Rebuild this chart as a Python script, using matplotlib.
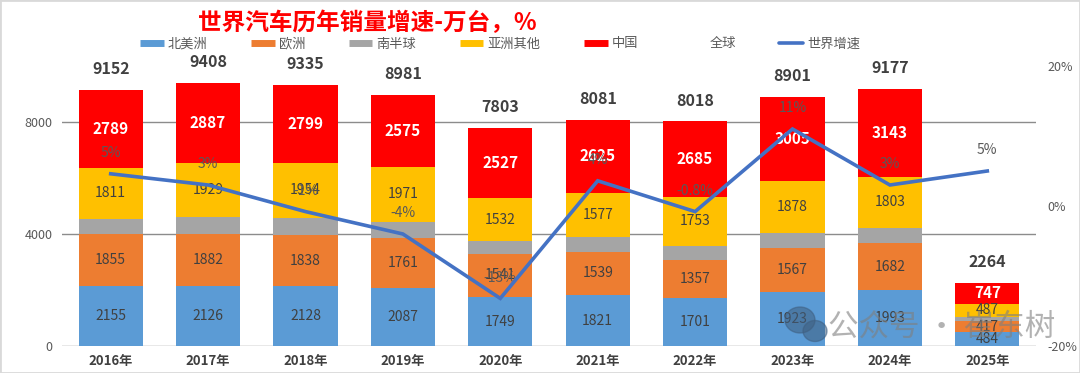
import matplotlib
matplotlib.use('Agg')
import matplotlib.pyplot as plt
from matplotlib.lines import Line2D
from matplotlib.patches import Rectangle, Ellipse

plt.rcParams['font.family'] = ['Liberation Sans Narrow', 'Noto Sans CJK SC', 'DejaVu Sans']

years = ["2016年", "2017年", "2018年", "2019年", "2020年",
         "2021年", "2022年", "2023年", "2024年", "2025年"]
north_america = [2155, 2126, 2128, 2087, 1749, 1821, 1701, 1923, 1993, 484]
europe = [1855, 1882, 1838, 1761, 1541, 1539, 1357, 1567, 1682, 417]
south = [542, 584, 616, 587, 454, 519, 522, 528, 556, 129]
asia_other = [1811, 1929, 1954, 1971, 1532, 1577, 1753, 1878, 1803, 487]
china = [2789, 2887, 2799, 2575, 2527, 2625, 2685, 3005, 3143, 747]
world = [9152, 9408, 9335, 8981, 7803, 8081, 8018, 8901, 9177, 2264]
growth = [4.6, 3.0, -0.8, -4.0, -13.2, 3.6, -0.8, 11.0, 3.0, 5.0]
growth_labels = ["5%", "3%", "-1%", "-4%", "-13%", "4%", "-0.8%", "11%", "3%", "5%"]

c_na, c_eu, c_s, c_as, c_cn = '#5B9BD5', '#ED7D31', '#A5A5A5', '#FFC000', '#FF0000'
c_line = '#4472C4'
txt = '#404040'

fig = plt.figure(figsize=(10.8, 3.73), dpi=100)
ax = fig.add_axes([62 / 1080, 1 - 346 / 373, (1036 - 62) / 1080, (346 - 66) / 373])

x = list(range(len(years)))
w = 0.66
series = [(north_america, c_na), (europe, c_eu), (south, c_s), (asia_other, c_as), (china, c_cn)]
bottom = [0] * len(years)
for k, (vals, col) in enumerate(series):
    ax.bar(x, vals, w, bottom=bottom, color=col, zorder=2)
    for i, v in enumerate(vals):
        mid = bottom[i] + v / 2
        if col == c_cn:
            ax.text(i, mid, str(v), ha='center', va='center', color='white',
                    fontsize=11, fontweight='bold', zorder=3)
        elif col != c_s:
            ax.text(i, mid, str(v), ha='center', va='center', color=txt,
                    fontsize=10, zorder=3)
    bottom = [b + v for b, v in zip(bottom, vals)]

for i, t in enumerate(world):
    ax.annotate(str(t), (i, t), xytext=(0, 15), textcoords='offset points',
                ha='center', va='center', fontsize=11.5, fontweight='bold', color=txt)

ax.set_xlim(-0.5, 9.5)
ax.set_ylim(0, 10000)
ax.set_yticks([0, 4000, 8000])
ax.grid(axis='y', color='#8c8c8c', linewidth=1, zorder=1)
for s in ax.spines.values():
    s.set_visible(False)
ax.set_xticks(x)
ax.set_xticklabels(years, fontweight='bold', color=txt, fontsize=9.5)
ax.tick_params(axis='x', length=0, pad=6)
ax.tick_params(axis='y', length=0, pad=7, labelsize=9, labelcolor='#595959')

ax2 = ax.twinx()
ax2.plot(x, growth, color=c_line, linewidth=2.6, solid_joinstyle='miter', zorder=4)
for i, (g, lab) in enumerate(zip(growth, growth_labels)):
    ax2.annotate(lab, (i, g), xytext=(0, 15), textcoords='offset points',
                 ha='center', va='center', fontsize=10, color='#595959')
ax2.set_ylim(-20, 20)
ax2.set_yticks([-20, 0, 20])
ax2.set_yticklabels(['-20%', '0%', '20%'])
ax2.tick_params(axis='y', length=0, pad=8, labelsize=9, labelcolor='#595959')
for s in ax2.spines.values():
    s.set_visible(False)

fig.text(367 / 1080, 1 - 23 / 373, "世界汽车历年销量增速-万台，%", color='#FF0000',
         fontsize=17, fontweight='bold', ha='center', va='center')

handles = [Line2D([], [], color=c, linewidth=5, solid_capstyle='butt')
           for c in (c_na, c_eu, c_s, c_as, c_cn)]
handles.append(Line2D([], [], color='none'))
handles.append(Line2D([], [], color=c_line, linewidth=2.6, solid_capstyle='round'))
labels = ["北美洲", "欧洲", "南半球", "亚洲其他", "中国", "全球", "世界增速"]
fig.legend(handles, labels, loc='center', bbox_to_anchor=(500 / 1080, 1 - 44 / 373),
           ncol=7, frameon=False, fontsize=9.5, labelcolor='#595959',
           handlelength=1.8, handletextpad=0.3, columnspacing=3.3)

# watermark
fig.text(828 / 1080, 1 - 327 / 373, "公众号 · 崔东树", fontsize=22, color='#7f7f7f',
         alpha=0.6, ha='left', va='center', family=['Noto Sans CJK SC', 'DejaVu Sans'])
fig.patches.append(Ellipse((800 / 1080, 1 - 320 / 373), 30 / 1080, 26 / 373,
                           transform=fig.transFigure, color='#3f5f80', alpha=0.55))
fig.patches.append(Ellipse((815 / 1080, 1 - 331 / 373), 24 / 1080, 21 / 373,
                           transform=fig.transFigure, color='#3f5f80', alpha=0.55))

fig.patches.append(Rectangle((0, 0), 1, 1, transform=fig.transFigure, fill=False,
                             edgecolor='#d9d9d9', linewidth=2))

fig.savefig('out.png', dpi=100)
